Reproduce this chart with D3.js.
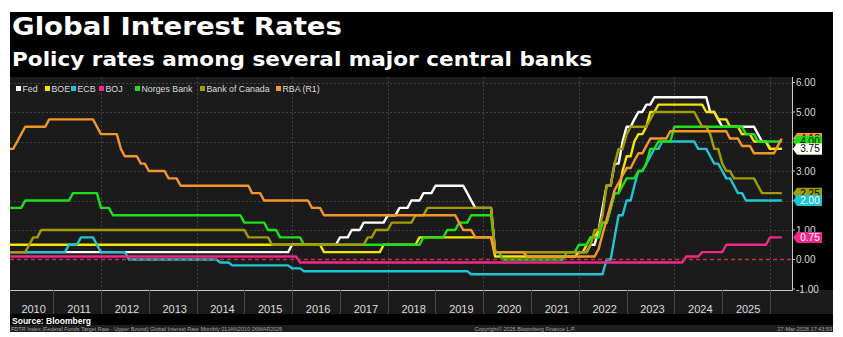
<!DOCTYPE html>
<html><head><meta charset="utf-8">
<script src="https://cdn.jsdelivr.net/npm/d3@7"></script>
<style>body{margin:0;background:#fff;}svg{display:block;}</style>
</head><body><svg id="c" width="843" height="337"></svg>
<script>
// ---------------- DATA ----------------
const seriesNames = ["Fed","BOE","ECB","BOJ","Norges Bank","Bank of Canada","RBA (R1)"];
const seriesColors = ["#ffffff","#f4e600","#1ec6d4","#f0288c","#1ee01a","#a39c00","#f2962a"];
const labelTextColors = ["#000","#000","#fff","#fff","#000","#000","#000"];

// month of each policy change (monthly sampled series) and the new rate
const fedDates = ["2010-01","2015-12","2016-12","2017-03","2017-06","2017-12","2018-03","2018-06","2018-09","2018-12","2019-08","2019-09","2019-10","2020-03","2022-03","2022-05","2022-06","2022-07","2022-09","2022-11","2022-12","2023-02","2023-03","2023-05","2023-07","2024-09","2024-11","2024-12","2025-09","2025-10","2025-12"];
const fedRates = [0.25,0.50,0.75,1.00,1.25,1.50,1.75,2.00,2.25,2.50,2.25,2.00,1.75,0.25,0.50,1.00,1.75,2.50,3.25,4.00,4.50,4.75,5.00,5.25,5.50,5.00,4.75,4.50,4.25,4.00,3.75];

const boeDates = ["2010-01","2016-08","2017-11","2018-08","2020-03","2021-12","2022-02","2022-03","2022-05","2022-06","2022-08","2022-09","2022-11","2022-12","2023-02","2023-03","2023-05","2023-06","2023-08","2024-08","2024-11","2025-02","2025-05","2025-08","2025-12"];
const boeRates = [0.50,0.25,0.50,0.75,0.10,0.25,0.50,0.75,1.00,1.25,1.75,2.25,3.00,3.50,4.00,4.25,4.50,5.00,5.25,5.00,4.75,4.50,4.25,4.00,3.75];

const ecbDates = ["2010-01","2011-04","2011-07","2011-11","2011-12","2012-07","2014-06","2014-09","2015-12","2016-03","2019-09","2022-07","2022-09","2022-10","2022-12","2023-02","2023-03","2023-05","2023-06","2023-07","2023-09","2024-06","2024-09","2024-10","2024-12","2025-01","2025-03","2025-04","2025-06"];
const ecbRates = [0.25,0.50,0.75,0.50,0.25,0.00,-0.10,-0.20,-0.30,-0.40,-0.50,0.00,0.75,1.50,2.00,2.50,3.00,3.25,3.50,3.75,4.00,3.75,3.50,3.25,3.00,2.75,2.50,2.25,2.00];

const bojDates = ["2010-01","2016-02","2024-03","2024-07","2025-01","2025-12"];
const bojRates = [0.10,-0.10,0.10,0.25,0.50,0.75];

const norgesDates = ["2010-01","2010-05","2011-05","2011-12","2012-03","2014-12","2015-06","2015-09","2016-03","2018-09","2019-03","2019-06","2019-09","2020-03","2020-05","2021-09","2021-12","2022-03","2022-06","2022-08","2022-09","2022-11","2022-12","2023-03","2023-05","2023-06","2023-08","2023-12","2025-06","2025-09"];
const norgesRates = [1.75,2.00,2.25,1.75,1.50,1.25,1.00,0.75,0.50,0.75,1.00,1.25,1.50,0.25,0.00,0.25,0.50,0.75,1.25,1.75,2.25,2.50,2.75,3.00,3.25,3.75,4.00,4.50,4.25,4.00];

const bocDates = ["2010-01","2010-06","2010-07","2010-09","2015-01","2015-07","2017-07","2017-09","2018-01","2018-07","2018-10","2020-03","2022-03","2022-04","2022-06","2022-07","2022-09","2022-10","2022-12","2023-01","2023-06","2023-07","2024-06","2024-07","2024-09","2024-10","2024-12","2025-01","2025-03","2025-09","2025-10"];
const bocRates = [0.25,0.50,0.75,1.00,0.75,0.50,0.75,1.00,1.25,1.50,1.75,0.25,0.50,1.00,1.50,2.50,3.25,3.75,4.25,4.50,4.75,5.00,4.75,4.50,4.25,3.75,3.25,3.00,2.75,2.50,2.25];

const rbaDates = ["2010-01","2010-03","2010-04","2010-05","2010-11","2011-11","2011-12","2012-05","2012-06","2012-10","2012-12","2013-05","2013-08","2015-02","2015-05","2016-05","2016-08","2019-06","2019-07","2019-10","2020-03","2020-11","2022-05","2022-06","2022-07","2022-08","2022-09","2022-10","2022-11","2022-12","2023-02","2023-03","2023-05","2023-06","2023-11","2025-02","2025-05","2025-08","2026-02","2026-03"];
const rbaRates = [3.75,4.00,4.25,4.50,4.75,4.50,4.25,3.75,3.50,3.25,3.00,2.75,2.50,2.25,2.00,1.75,1.50,1.25,1.00,0.75,0.25,0.10,0.35,0.85,1.35,1.85,2.35,2.60,2.85,3.10,3.35,3.60,3.85,4.10,4.35,4.10,3.85,3.60,3.85,4.10];

const lastMonth = "2026-03";
const yTicks = [-1,0,1,2,3,4,5,6];
const yearLabels = ["2010","2011","2012","2013","2014","2015","2016","2017","2018","2019","2020","2021","2022","2023","2024","2025"];
const gridYears = ["2012","2014","2016","2018","2020","2022","2024","2026"];

const titleText = "Global Interest Rates";
const subtitleText = "Policy rates among several major central banks";
const sourceText = "Source: Bloomberg";
const footLeft = "FDTR Index (Federal Funds Target Rate - Upper Bound) Global Interest Rate Monthly 01JAN2010-26MAR2026";
const footMid = "Copyright\u00A9 2026 Bloomberg Finance L.P.";
const footRight = "27-Mar-2026 17:43:59";

// ---------------- LAYOUT ----------------
const svg = d3.select("#c");
const P = {left:10, right:792, top:77, bottom:290};
const parseM = d3.timeParse("%Y-%m");
const pyear = d3.timeParse("%Y");
const x = d3.scaleTime().domain([pyear("2010"), pyear("2026")]).range([5.5, 770]);
const y = d3.scaleLinear().domain([0, 6]).range([259.5, 82.5]);
const endOfMonth = d => d3.timeMonth.offset(d, 1);

svg.append("rect").attr("x",0).attr("y",0).attr("width",843).attr("height",337).attr("fill","#fff");
svg.append("rect").attr("x",10).attr("y",12).attr("width",823).attr("height",320).attr("fill","#000");
svg.append("rect").attr("x",P.left).attr("y",P.top).attr("width",P.right-P.left).attr("height",P.bottom-P.top).attr("fill","#1b1b1b");
svg.append("rect").attr("x",10).attr("y",P.bottom).attr("width",823).attr("height",24).attr("fill","#1b1b1b");
svg.append("rect").attr("x",10).attr("y",325).attr("width",823).attr("height",7).attr("fill","#1e1e1e");

// titles
svg.append("text").attr("x",12).attr("y",35).text(titleText)
  .attr("font-family","DejaVu Sans, Verdana, sans-serif").attr("font-weight","bold").attr("font-size",25)
  .attr("fill","#fff").attr("textLength",330).attr("lengthAdjust","spacingAndGlyphs");
svg.append("text").attr("x",12).attr("y",66).text(subtitleText)
  .attr("font-family","DejaVu Sans, Verdana, sans-serif").attr("font-weight","bold").attr("font-size",19)
  .attr("fill","#fff").attr("textLength",580).attr("lengthAdjust","spacingAndGlyphs");

// gridlines
const grid = svg.append("g").attr("stroke","#424242").attr("stroke-width",1).attr("stroke-dasharray","2,2");
yTicks.filter(v => v !== 0 && v !== -1).forEach(v => {
  grid.append("line").attr("x1",P.left).attr("x2",P.right).attr("y1",Math.round(y(v))+0.5).attr("y2",Math.round(y(v))+0.5);
});
gridYears.forEach(s => {
  const gx = Math.round(x(pyear(s)))+0.5;
  grid.append("line").attr("x1",gx).attr("x2",gx).attr("y1",P.top).attr("y2",P.bottom);
});

// clip
svg.append("clipPath").attr("id","clp").append("rect")
  .attr("x",P.left).attr("y",P.top).attr("width",P.right-P.left).attr("height",P.bottom-P.top);

const seriesDates = [fedDates,boeDates,ecbDates,bojDates,norgesDates,bocDates,rbaDates];
const seriesRates = [fedRates,boeRates,ecbRates,bojRates,norgesRates,bocRates,rbaRates];
const endM = parseM(lastMonth);

function buildPoints(dates, rates){
  const pts = [];
  dates.forEach((ds,i) => {
    const m0 = parseM(ds);
    const m1 = i < dates.length-1 ? d3.timeMonth.offset(parseM(dates[i+1]), -1) : endM;
    pts.push({d:endOfMonth(m0), v:rates[i]});
    if (+m1 !== +m0) pts.push({d:endOfMonth(m1), v:rates[i]});
  });
  return pts;
}
const line = d3.line().x(p => x(p.d)).y(p => y(p.v));
const lines = svg.append("g").attr("clip-path","url(#clp)");
seriesNames.forEach((n,i) => {
  lines.append("path").datum(buildPoints(seriesDates[i], seriesRates[i]))
    .attr("d", line).attr("fill","none").attr("stroke",seriesColors[i])
    .attr("stroke-width",2.4).attr("stroke-linejoin","round");
});

// zero line
svg.append("line").attr("x1",P.left).attr("x2",P.right).attr("y1",y(0)).attr("y2",y(0))
  .attr("stroke","#c8303c").attr("stroke-width",1.3).attr("stroke-dasharray","4,3");

// right axis
const ax = svg.append("g").attr("transform",`translate(${P.right},0)`);
ax.append("line").attr("x1",0.5).attr("x2",0.5).attr("y1",P.top).attr("y2",P.bottom+0.5).attr("stroke","#c8c8c8");
svg.append("line").attr("x1",P.left).attr("x2",P.right+0.5).attr("y1",P.bottom+0.5).attr("y2",P.bottom+0.5).attr("stroke","#c8c8c8");
yTicks.forEach(v => {
  ax.append("line").attr("x1",0).attr("x2",3).attr("y1",y(v)).attr("y2",y(v)).attr("stroke","#c8c8c8");
  ax.append("text").attr("x",4).attr("y",y(v)).attr("dy","0.35em").text(d3.format(".2f")(v).replace("−","-"))
    .attr("font-family","Liberation Sans, Arial, sans-serif").attr("font-size",10).attr("fill","#dcdcdc");
});

// last value labels (drawn in reverse so Fed ends on top)
const lab = svg.append("g");
d3.range(seriesNames.length-1, -1, -1).forEach(i => {
  const v = seriesRates[i][seriesRates[i].length-1];
  const cy = y(v);
  const x0 = P.right + 1, h = 5.5;
  lab.append("path").attr("d",`M${x0},${cy} L${x0+4},${cy-h} L${x0+29},${cy-h} L${x0+29},${cy+h} L${x0+4},${cy+h} Z`)
    .attr("fill",seriesColors[i]);
  lab.append("text").attr("x",x0+17).attr("y",cy).attr("dy","0.36em").attr("text-anchor","middle")
    .text(d3.format(".2f")(v)).attr("font-family","Liberation Sans, Arial, sans-serif").attr("font-size",10)
    .attr("fill",labelTextColors[i]);
});

// legend
const legX = [16,45,71,99,135,200,276];
const leg = svg.append("g");
seriesNames.forEach((n,i) => {
  leg.append("rect").attr("x",legX[i]).attr("y",86).attr("width",5).attr("height",5).attr("fill",seriesColors[i]);
  leg.append("text").attr("x",legX[i]+6.5).attr("y",91.5).text(n)
    .attr("font-family","Liberation Sans, Arial, sans-serif").attr("font-size",8.8).attr("fill","#dcdcdc");
});

// x axis band: separators and year labels
const xa = svg.append("g");
yearLabels.forEach((s,i) => {
  const y0 = pyear(s), y1 = d3.timeYear.offset(y0,1);
  const sx = Math.round(x(y1))+0.5;
  xa.append("line").attr("x1",sx).attr("x2",sx).attr("y1",P.bottom).attr("y2",314).attr("stroke","#4a4a4a");
  const a = Math.max(P.left, x(y0)), b = x(y1);
  xa.append("text").attr("x",(a+b)/2+2).attr("y",313).attr("text-anchor","middle").text(s)
    .attr("font-family","Liberation Sans, Arial, sans-serif").attr("font-size",11).attr("fill","#dcdcdc");
});

// source & footer
svg.append("text").attr("x",12).attr("y",323.5).text(sourceText)
  .attr("font-family","Liberation Sans, Arial, sans-serif").attr("font-weight","bold").attr("font-size",9.5)
  .attr("fill","#fff").attr("textLength",79).attr("lengthAdjust","spacingAndGlyphs");
const ff = {"font-family":"Liberation Sans, Arial, sans-serif","font-size":5.5,"fill":"#a8a8a8"};
const t1 = svg.append("text").attr("x",11).attr("y",330.5).text(footLeft);
const t2 = svg.append("text").attr("x",525).attr("y",330.5).attr("text-anchor","middle").text(footMid);
const t3 = svg.append("text").attr("x",832).attr("y",330.5).attr("text-anchor","end").text(footRight);
[t1,t2,t3].forEach(t => Object.entries(ff).forEach(([k,v]) => t.attr(k,v)));
</script>
</body></html>
